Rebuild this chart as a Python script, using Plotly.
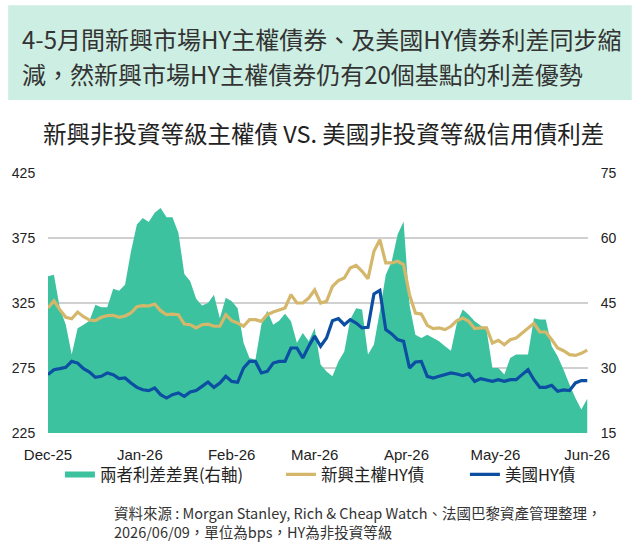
import pandas as pd
import plotly.graph_objects as go

# one reading every 2 days, Dec 1 2025 -> Jun 1 2026
dates = pd.date_range("2025-12-01", "2026-06-01", freq="2D")

# spread between the two (bps, right axis)
spread_diff = [
    51.2, 51.5, 43.8, 40.0, 33.1, 39.2, 40.0, 40.9, 44.6, 44.0,
    44.0, 48.3, 47.8, 49.2, 56.9, 63.1, 64.6, 63.7, 65.8, 66.9,
    64.8, 64.8, 61.2, 51.7, 50.0, 46.0, 44.4, 45.0, 46.9, 41.5,
    46.2, 45.4, 43.8, 35.8, 32.3, 31.9, 40.0, 43.2, 40.0, 40.9,
    42.5, 40.8, 35.8, 38.1, 36.2, 39.2, 30.8, 29.2, 28.1, 31.5,
    33.8, 41.2, 43.8, 43.5, 33.1, 35.4, 43.1, 51.5, 54.6, 60.8,
    63.8, 44.6, 37.7, 36.9, 37.7, 36.9, 36.2, 35.0, 34.0, 40.4,
    43.5, 42.3, 40.8, 39.8, 38.8, 30.0, 30.0, 28.5, 32.3, 33.1,
    33.1, 33.1, 41.5, 41.2, 41.2, 35.0, 32.7, 29.6, 26.2, 23.1,
    20.4, 22.9,
]

# EM sovereign HY spread (bps, left axis)
em_hy = [
    321.2, 326.8, 319.9, 314.0, 312.9, 318.0, 314.5, 311.9, 311.4, 314.0,
    315.3, 315.5, 314.0, 315.0, 317.3, 322.2, 323.0, 322.7, 324.2, 319.1,
    316.0, 316.5, 316.0, 308.8, 308.3, 305.8, 308.3, 308.8, 307.1, 307.1,
    316.0, 311.4, 309.6, 307.1, 312.2, 312.2, 310.9, 316.0, 318.0, 319.9,
    321.2, 331.4, 325.0, 325.0, 328.8, 335.0, 325.0, 326.3, 337.8, 342.2,
    344.2, 351.9, 354.0, 349.4, 343.7, 364.7, 373.7, 355.8, 355.8, 357.1,
    354.5, 331.4, 317.3, 316.5, 307.8, 305.3, 305.8, 304.5, 307.1, 311.4,
    313.5, 310.9, 305.3, 305.8, 305.8, 294.2, 296.3, 292.9, 296.8, 298.1,
    301.9, 305.0, 309.4, 302.7, 302.7, 296.8, 290.4, 288.3, 285.3, 284.7,
    286.3, 288.8,
]

# US HY spread (bps, left axis)
us_hy = [
    269.9, 273.7, 274.5, 275.5, 280.1, 278.8, 274.5, 271.9, 267.8, 268.6,
    271.2, 269.9, 266.8, 267.3, 263.5, 260.1, 258.3, 257.6, 259.6, 254.5,
    251.9, 254.5, 255.8, 253.2, 256.5, 257.6, 260.9, 264.2, 260.1, 263.5,
    268.6, 264.7, 264.0, 275.0, 280.1, 280.1, 271.2, 272.4, 278.8, 280.1,
    280.1, 290.4, 290.4, 282.7, 291.7, 299.6, 291.7, 298.1, 311.4, 313.0,
    308.3, 312.2, 309.6, 305.8, 306.3, 332.0, 334.7, 304.5, 301.2, 296.8,
    295.5, 275.0, 279.6, 280.1, 268.6, 267.3, 268.6, 269.9, 271.2, 270.4,
    269.1, 270.6, 264.7, 266.8, 266.0, 264.7, 266.0, 264.7, 266.0, 266.0,
    269.9, 273.7, 266.0, 260.1, 260.1, 261.7, 257.1, 258.1, 257.6, 263.5,
    265.3, 265.3,
]

GREEN = "#3dc2a0"
GOLD = "#d4b76a"
BLUE = "#0b4ea2"
CJK = "Noto Sans CJK TC"
ARIAL = "Liberation Sans, Arial"

# plot area in pixels (used to place the header text outside the plot)
L, R, T, B = 45, 588, 173, 433.3
def px(x):
    return (x - L) / (R - L)
def py(y):
    return (B - y) / (B - T)

fig = go.Figure()

# area first on the primary (right-hand) axis so it sits under the lines
fig.add_trace(go.Scatter(x=dates, y=spread_diff, name="兩者利差差異(右軸)",
                         mode="none", fill="tozeroy", fillcolor=GREEN,
                         yaxis="y", legendwidth=176))
fig.add_trace(go.Scatter(x=dates, y=em_hy, name="新興主權HY債", mode="lines",
                         line=dict(color=GOLD, width=3.2), yaxis="y2", legendwidth=139))
fig.add_trace(go.Scatter(x=dates, y=us_hy, name="美國HY債", mode="lines",
                         line=dict(color=BLUE, width=3.2), yaxis="y2"))

fig.update_layout(
    width=637, height=543,
    margin=dict(l=L, r=637 - R, t=T, b=543 - B),
    paper_bgcolor="white", plot_bgcolor="white",
    font=dict(family=CJK, color="#222"),
    xaxis=dict(type="date", range=["2025-12-01", "2026-06-01 06:00"],
               dtick="M1", tick0="2025-12-01", tickformat="%b-%y",
               showgrid=False, zeroline=False, showline=False,
               ticks="outside", ticklen=8, tickcolor="rgba(0,0,0,0)",
               tickfont=dict(family=ARIAL, size=15, color="#222")),
    yaxis=dict(side="right", range=[15, 75], tick0=15, dtick=15,
               showgrid=True, gridcolor="#d0d0d0", gridwidth=1.5, zeroline=False,
               ticks="outside", ticklen=9, tickcolor="rgba(0,0,0,0)",
               tickfont=dict(family=ARIAL, size=14, color="#222")),
    yaxis2=dict(overlaying="y", side="left", range=[225, 425], tick0=225, dtick=50,
                showgrid=False, zeroline=False,
                ticks="outside", ticklen=9, tickcolor="rgba(0,0,0,0)",
                tickfont=dict(family=ARIAL, size=14, color="#222")),
    legend=dict(orientation="h", x=px(57), xanchor="left", y=py(475), yanchor="middle",
                font=dict(family=CJK, size=16.5, color="#222"), itemwidth=30,
                bgcolor="rgba(0,0,0,0)", traceorder="normal"),
    showlegend=True,
)

# header band
fig.add_shape(type="rect", xref="paper", yref="paper",
              x0=px(5), x1=px(632), y0=py(100), y1=py(5),
              fillcolor="#cdeee2", line_width=0, layer="below")

header = ["4-5月間新興市場HY主權債券、及美國HY債券利差同步縮",
          "減，然新興市場HY主權債券仍有20個基點的利差優勢"]
for text, y in zip(header, [38, 73]):
    fig.add_annotation(text=text, xref="paper", yref="paper", x=px(17), y=py(y),
                       xanchor="left", yanchor="middle", showarrow=False,
                       font=dict(family=CJK, size=24, color="#333"))

fig.add_annotation(text="新興非投資等級主權債 VS. 美國非投資等級信用債利差",
                   xref="paper", yref="paper", x=px(322), y=py(133),
                   xanchor="center", yanchor="middle", showarrow=False,
                   font=dict(family=CJK, size=23.5, color="#222"))

source = ("資料來源 : Morgan Stanley, Rich & Cheap Watch、法國巴黎資產管理整理，<br>"
          "2026/06/09，單位為bps，HY為非投資等級")
fig.add_annotation(text=source, xref="paper", yref="paper", x=px(110), y=py(522),
                   xanchor="left", yanchor="middle", align="left", showarrow=False,
                   borderpad=0, font=dict(family=CJK, size=14.5, color="#333"))

# drop the browser's default 8px body margin so the figure sits at 0,0
fig.write_html("out.html", config={"displayModeBar": False},
               post_script="document.body.style.margin='0';")
